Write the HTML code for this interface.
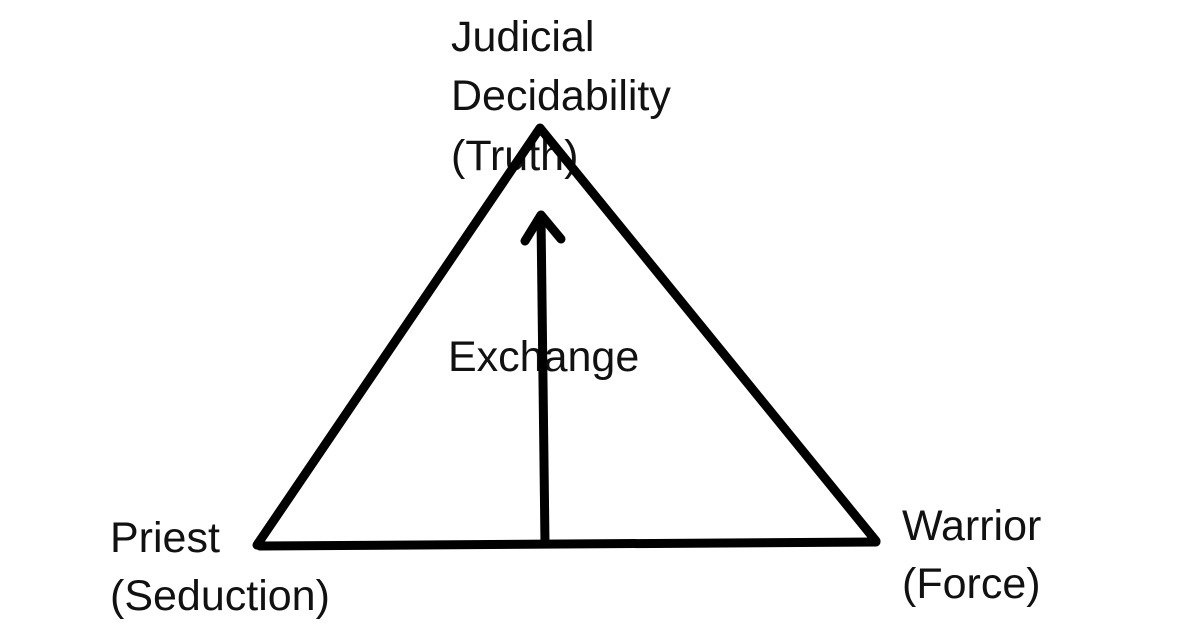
<!DOCTYPE html>
<html><head><style>html,body{margin:0;padding:0;background:#fff;}</style></head>
<body>
<svg width="1200" height="639" viewBox="0 0 1200 639" xmlns="http://www.w3.org/2000/svg">
<g font-family="Liberation Sans, Arial, sans-serif" font-size="43" fill="#111">
<text x="451" y="51">Judicial</text>
<text x="451" y="110">Decidability</text>
<text x="451" y="170">(Truth)</text>
<text x="448" y="371">Exchange</text>
<text x="110" y="552">Priest</text>
<text x="110" y="610">(Seduction)</text>
<text x="902" y="540">Warrior</text>
<text x="902" y="598">(Force)</text>
</g>
<g stroke="#000" stroke-width="9" fill="none" stroke-linecap="round" stroke-linejoin="round">
<polyline points="257,545 540,128 876,541"/>
<line x1="260" y1="546" x2="876" y2="542"/>
<line x1="545" y1="544" x2="541" y2="218"/>
<polyline points="525,241 541,215 561,239"/>
</g>
</svg>
</body></html>
